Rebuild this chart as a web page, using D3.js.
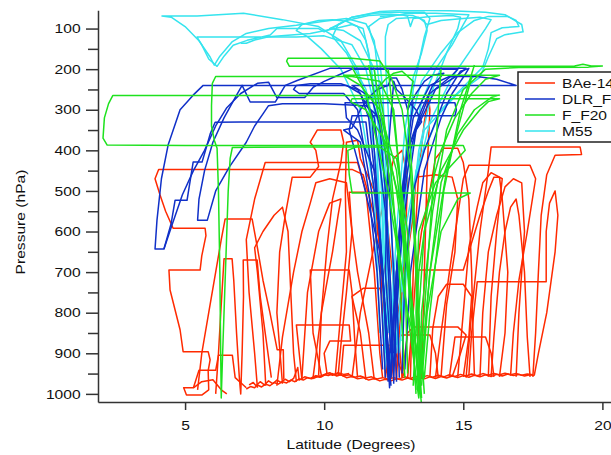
<!DOCTYPE html>
<html><head><meta charset="utf-8">
<script src="https://cdn.jsdelivr.net/npm/d3@7"></script>
<style>body{margin:0;background:#fff;overflow:hidden}svg{display:block}text{font-family:"Liberation Sans",Arial,sans-serif;fill:#111}</style>
</head><body>
<svg id="chart" width="611" height="455"></svg>
<script>
const seriesNames = ["BAe-146", "DLR_Falcon", "F_F20", "M55"];
const seriesColors = ["#ff2a00", "#1030c8", "#1ee21e", "#35e4ee"];
const xTickValues = [5, 10, 15, 20];
const yTickValues = [100, 200, 300, 400, 500, 600, 700, 800, 900, 1000];
const yMinorTickValues = [150, 250, 350, 450, 550, 650, 750, 850, 950];

const bae146Tracks = [
 [[12.6,960],[12.5,850],[12.2,700],[11.8,560],[11.4,460],[11.0,447],[8.0,447],[6.0,447],[4.05,447],[3.92,470],[4.1,510],[4.3,550],[4.57,592],[5.72,592],[5.75,610],[5.6,660],[5.54,695],[4.42,695],[4.46,744],[4.82,842],[4.93,896],[5.83,896],[5.9,916],[5.83,943],[5.85,990],[5.6,1003],[5.05,1003],[4.95,985],[5.3,985],[5.6,970],[6.0,965],[6.3,990],[6.5,1000]],
 [[5.45,990],[5.6,900],[5.85,800],[6.1,700],[6.3,620],[6.44,569],[7.41,569],[7.6,640],[7.8,720],[8.05,800],[8.31,891],[8.53,891],[8.55,965]],
 [[6.1,1000],[6.2,900],[6.3,780],[6.4,667],[6.69,667],[6.75,720],[6.85,850],[6.95,960],[7.0,1000],[7.05,900],[7.1,760],[7.09,670],[7.59,670],[7.7,760],[7.9,860],[8.1,960]],
 [[5.3,985],[5.5,942],[6.1,942],[6.2,905],[6.7,905],[6.8,960],[7.2,985]],
 [[7.6,985],[7.5,900],[7.3,750],[7.2,620],[7.5,520],[7.88,430],[9.0,430],[10.5,430],[11.2,430],[11.5,500],[11.8,700],[12.0,900],[12.1,960]],
 [[8.5,975],[8.3,800],[8.4,650],[8.6,560],[8.85,466],[9.5,466],[9.8,440],[9.7,400],[9.5,380],[9.75,350],[10.6,350],[10.7,380],[10.6,430],[10.3,520],[10.1,640],[9.9,800],[9.8,955]],
 [[9.2,965],[9.0,830],[9.4,830],[10.9,830],[10.95,870],[10.2,870],[10.0,900],[10.1,950]],
 [[9.9,955],[9.6,850],[9.5,695],[10.9,695],[11.0,750],[11.1,870],[11.2,960]],
 [[8.3,980],[8.5,860],[8.9,700],[9.2,600],[9.5,530],[9.7,480],[10.2,470],[10.8,480],[11.0,600],[10.8,750],[10.6,880],[10.5,955]],
 [[10.4,955],[10.6,800],[10.8,650],[10.76,500],[10.8,380],[11.2,375],[11.3,420],[11.8,500],[12.0,650],[12.1,800],[12.2,960]],
 [[11.5,965],[11.3,850],[11.0,760],[11.4,740],[12.0,740],[12.3,800],[12.4,900],[12.5,965]],
 [[11.8,965],[11.6,850],[11.2,700],[11.0,600],[10.9,503],[12.2,503],[12.3,600],[12.6,800],[12.8,960]],
 [[13.0,960],[13.2,800],[13.3,700],[13.5,600],[13.8,500],[14.0,420],[14.3,395],[14.8,395],[15.0,430],[15.2,520],[15.3,700],[15.35,850],[15.4,955]],
 [[14.0,960],[14.2,850],[14.5,700],[14.8,560],[15.0,470],[15.2,437],[17.4,437],[17.6,470],[17.3,600],[17.0,720],[16.8,850],[16.7,955]],
 [[15.1,960],[15.3,800],[15.6,600],[15.9,450],[16.0,392],[18.5,392],[19.2,392],[19.25,410],[18.3,412],[18.0,460],[17.8,560],[17.7,700],[17.6,850],[17.5,958]],
 [[15.2,955],[15.3,850],[15.5,724],[17.0,724],[17.98,724],[17.98,600],[18.1,530],[18.3,500],[18.4,560],[18.3,650],[18.0,800],[17.7,900],[17.55,955]],
 [[12.8,960],[13.0,850],[13.2,835],[14.8,835],[15.1,855],[14.9,900],[14.6,958]],
 [[13.5,955],[13.4,850],[13.3,695],[15.0,695],[15.2,650],[15.6,560],[15.9,500],[16.1,466],[16.3,466],[16.4,520],[16.6,700],[16.5,850],[16.3,958]],
 [[12.4,960],[12.6,820],[12.9,700],[13.2,560],[13.3,466],[14.0,460],[14.6,466],[14.8,520],[14.7,650],[14.4,780],[14.2,958]],
 [[16.0,958],[16.1,860],[16.3,700],[16.5,600],[16.7,540],[16.9,520],[17.0,560],[17.2,700],[17.3,860],[17.4,958]],
 [[13.1,960],[13.2,700],[13.4,450],[13.6,330],[13.75,270],[13.8,300],[13.7,450],[13.6,700],[13.5,960]],
 [[10.6,955],[10.7,880],[12.5,880],[12.7,930],[12.9,960]],
 [[14.5,958],[14.7,860],[15.8,860],[16.0,900],[16.1,958]],
 [[11.0,960],[11.3,800],[11.9,600],[12.3,480],[12.5,420],[12.8,400],[13.0,470],[12.9,650],[12.7,850],[12.6,960]],
 [[14.8,958],[15.0,800],[15.2,640],[15.5,540],[15.7,480],[16.0,455],[16.4,470],[16.2,600],[16.0,760],[15.9,958]],
 [[9.6,960],[9.9,800],[10.3,650],[10.5,560],[10.6,520],[10.2,530],[9.8,600],[9.4,750],[9.2,960]],
 [[15.6,958],[15.7,800],[15.9,650],[16.2,560],[16.5,490],[16.8,470],[17.1,480],[17.2,600],[17.0,800],[16.9,958]],
 [[13.8,958],[13.9,840],[14.1,760],[14.4,730],[15.0,730],[15.3,760],[15.2,860],[15.0,958]],
 [[12.2,960],[12.4,870],[12.8,855],[13.8,855],[14.0,900],[14.1,960]],
 [[7.9,980],[7.8,850],[7.6,700],[7.5,640],[7.8,600],[8.2,560],[8.5,540],[8.7,600],[8.8,750],[8.9,900],[9.0,970]]
];
const bae146Ground = [
 [[7.2,988],[7.35,982],[7.5,985],[7.6,978],[7.75,983],[7.9,976],[8.05,980],[8.2,972],[8.35,976],[8.5,970],[8.65,973],[8.8,966],[8.95,970],[9.1,963],[9.25,966],[9.4,960],[9.55,963],[9.7,957],[9.85,959],[10.0,953],[10.15,955],[10.3,950],[10.45,956],[10.6,953],[10.8,960],[11.0,957],[11.2,963],[11.4,960],[11.6,966],[11.8,962],[12.0,968],[12.2,964],[12.4,968],[12.6,963],[12.8,966],[13.0,961],[13.2,965],[13.4,960],[13.6,963],[13.8,958],[14.0,962],[14.2,957],[14.4,961],[14.6,956],[14.8,960],[15.0,955],[15.2,959],[15.4,954],[15.6,958],[15.8,953],[16.0,957],[16.2,952],[16.4,956],[16.6,951],[16.8,955],[17.0,952],[17.2,956],[17.4,953],[17.55,955]],
 [[9.6,962],[9.75,958],[9.9,955],[10.05,951],[10.2,948],[10.35,953],[10.5,950],[10.7,956],[10.9,953],[11.1,959],[11.3,956],[11.5,961],[11.7,958],[11.9,963],[12.1,960],[12.3,964],[12.5,960],[12.7,963],[12.9,958],[13.1,962],[13.3,957],[13.5,960],[13.7,955],[13.9,959],[14.1,954],[14.3,958],[14.5,953],[14.7,957],[14.9,952],[15.1,956],[15.3,951],[15.5,955],[15.7,950],[15.9,954],[16.1,950],[16.3,953],[16.5,949],[16.7,953],[16.9,950],[17.1,954],[17.3,951],[17.5,953]],
 [[7.3,978],[7.45,972],[7.55,980],[7.7,970],[7.85,978],[8.0,968],[8.15,975],[8.3,966],[8.45,972],[8.6,964],[8.75,970],[8.9,962],[9.05,935],[9.1,966],[9.3,958],[9.5,962],[9.7,955],[9.9,958],[10.1,950],[10.3,954],[10.5,948],[10.7,952],[10.9,950]]
];
const dlrTracks = [
 [[12.3,970],[12.1,700],[11.8,450],[11.6,320],[11.3,260],[10.8,240],[9.0,240],[7.0,240],[5.65,240],[5.29,264],[4.82,300],[4.39,387],[4.15,470],[3.99,572],[3.92,643],[4.24,643],[4.53,584],[4.9,510],[5.3,450],[5.7,400],[6.1,340],[6.5,295],[7.0,260],[7.6,235],[8.0,232],[8.3,270],[8.6,270],[9.3,270],[9.6,245],[10.0,230],[10.5,215],[11.0,200],[13.0,200],[14.8,200],[14.6,215],[13.8,260],[13.0,400],[12.6,700],[12.4,960]],
 [[12.4,980],[12.2,800],[12.0,600],[11.7,450],[11.5,330],[11.0,330],[9.0,330],[7.0,330],[6.08,331],[5.9,360],[5.79,387],[5.61,429],[5.29,429],[5.07,523],[4.64,523],[4.5,580],[4.24,643]],
 [[12.6,970],[12.5,700],[12.3,450],[12.0,320],[11.5,290],[10.0,285],[8.5,285],[8.0,290],[7.8,310],[7.5,340],[7.2,380],[6.6,440],[6.1,500],[5.8,572],[5.45,572],[5.5,520],[5.7,450],[6.0,380],[6.4,320],[6.8,270],[7.05,240],[7.34,281],[8.24,281],[8.6,240],[9.03,228],[10.2,198],[12.0,198],[15.1,198],[14.8,215],[14.0,250],[13.3,350],[12.8,600],[12.5,900]],
 [[12.3,960],[12.1,700],[11.8,450],[11.2,350],[10.8,320],[10.75,283],[12.0,283],[14.7,283],[14.75,300],[14.7,315],[12.5,315],[11.0,315],[10.9,350],[11.3,450],[12.0,650],[12.4,960]],
 [[12.5,975],[12.4,750],[12.2,500],[12.0,340],[11.7,270],[11.0,240],[12.0,240],[14.0,240],[16.9,240],[16.2,225],[15.5,218],[14.5,218],[13.8,240],[13.2,320],[12.8,500],[12.6,750],[12.5,970]],
 [[12.1,940],[11.9,700],[11.6,500],[11.3,380],[10.9,360],[10.7,350],[11.0,345],[11.3,300],[11.6,270],[11.9,250],[12.3,240],[12.4,222],[12.6,222],[12.8,250],[13.0,300],[13.3,260],[13.6,230],[13.9,215],[14.3,210],[13.9,240],[13.5,300],[13.0,400],[12.7,600],[12.5,800],[12.3,940]],
 [[12.7,960],[12.6,700],[12.9,500],[13.1,400],[13.3,350],[13.5,330],[13.3,300],[12.9,270],[12.6,250],[12.5,230],[12.3,400],[12.2,700],[12.4,900]],
 [[11.7,300],[11.9,500],[12.2,800],[12.35,985],[12.5,800],[12.8,500],[13.2,280]],
 [[12.2,960],[12.0,700],[11.7,500],[11.4,380],[11.2,300],[10.7,260],[9.1,260],[8.9,250],[9.0,240],[9.5,236],[10.6,236],[11.2,250],[11.8,320],[12.2,550],[12.45,900]],
 [[12.8,950],[12.9,700],[13.2,500],[13.6,400],[14.0,330],[14.4,260],[14.9,205],[15.2,198],[15.0,220],[14.6,260],[14.2,320],[13.6,450],[13.1,700],[12.9,940]]
];
const f20Tracks = [
 [[13.5,1010],[13.3,800],[13.4,600],[14.0,480],[14.8,420],[15.07,400],[15.0,388],[12.0,388],[8.0,388],[5.0,388],[2.2,387],[2.05,370],[2.1,320],[2.25,285],[2.4,265],[6.0,265],[12.0,265],[16.3,264],[16.0,270],[15.4,300],[14.8,360],[14.2,480],[13.8,700],[13.5,950]],
 [[13.0,950],[12.9,700],[12.7,450],[12.5,300],[12.0,230],[11.0,218],[8.0,218],[6.1,218],[5.98,235],[5.95,290],[5.95,340],[6.05,375],[6.15,395],[6.2,500],[6.25,700],[6.28,900],[6.3,1010],[6.35,900],[6.45,700],[6.55,500],[6.62,420],[6.7,393],[9.0,392],[12.0,392],[12.6,420],[13.0,600],[13.3,1000]],
 [[13.4,990],[13.3,700],[13.1,450],[12.8,300],[12.4,220],[12.0,180],[11.0,173],[8.7,173],[8.65,180],[8.75,193],[12.0,193],[16.0,193],[19.0,192],[19.3,188],[19.6,192],[20.0,192],[19.5,195],[17.0,196],[15.8,200],[15.0,250],[14.4,350],[13.9,550],[13.5,800],[13.45,1000]],
 [[11.2,390],[10.85,400],[10.9,460],[11.0,505],[13.0,505],[15.25,505],[14.8,520],[14.2,600],[13.7,800],[13.5,980]],
 [[13.6,1000],[13.4,800],[13.6,600],[14.2,450],[15.0,350],[15.6,300],[15.9,280],[16.3,273],[14.0,273],[11.0,273],[10.95,280],[11.5,300],[12.2,380],[12.8,550],[13.2,800],[13.4,1000]],
 [[13.2,980],[13.4,700],[13.8,500],[14.2,400],[14.7,320],[15.3,260],[15.8,225],[16.3,215],[13.0,215],[10.7,215],[11.3,240],[12.0,300],[12.6,450],[13.0,700],[13.3,990]],
 [[11.6,190],[12.2,400],[12.8,700],[13.4,1010],[13.8,700],[14.4,450],[15.3,220]],
 [[12.3,200],[12.7,450],[13.1,750],[13.49,1020]],
 [[14.2,200],[13.9,500],[13.6,800],[13.4,980],[13.2,800],[12.6,500],[12.0,300],[11.8,200]],
 [[15.4,190],[14.9,300],[14.3,500],[13.8,800],[13.6,960],[13.0,800],[12.3,500],[11.5,260],[11.0,195]],
 [[12.9,960],[12.7,700],[12.4,450],[12.1,300],[11.95,245],[12.2,225],[12.5,210],[12.8,205],[13.2,230],[13.0,300],[13.2,500],[13.4,800],[13.45,990]]
];
const m55Tracks = [
 [[12.2,940],[12.1,700],[11.9,450],[11.6,300],[11.2,200],[10.6,130],[9.8,95],[8.5,78],[7.1,62],[5.43,69],[4.17,69],[4.5,72],[5.0,95],[5.5,130],[5.9,170],[6.05,190],[6.25,168],[6.7,132],[7.2,112],[8.0,100],[9.0,92],[10.0,82],[10.8,75],[11.5,88],[11.8,130],[12.0,250],[12.2,500],[12.4,900]],
 [[12.5,920],[12.3,600],[12.0,350],[11.5,200],[11.0,140],[10.0,118],[9.0,121],[5.43,121],[5.6,140],[5.85,175],[6.15,193],[6.4,168],[6.73,141],[7.23,129],[8.06,116],[8.3,100],[9.8,100],[10.0,108],[10.4,95],[11.0,72],[11.8,62],[12.5,60],[13.6,60],[13.8,75],[13.6,120],[13.2,250],[12.8,500],[12.6,800],[12.5,930]],
 [[12.3,950],[12.2,700],[12.0,400],[11.5,250],[10.8,160],[10.3,120],[10.5,90],[11.0,72],[12.0,58],[13.0,55],[14.5,56],[15.8,60],[16.5,66],[17.1,90],[17.15,108],[16.5,115],[16.2,125],[15.9,170],[15.6,220],[14.8,260],[13.6,350],[12.9,600],[12.6,900]],
 [[12.4,930],[12.3,650],[12.2,400],[12.1,250],[12.0,180],[11.7,120],[11.6,95],[12.0,75],[13.0,62],[14.0,62],[15.2,66],[15.0,90],[14.6,140],[14.0,200],[13.5,280],[13.0,450],[12.7,700],[12.5,920]],
 [[12.2,900],[12.1,600],[12.0,350],[11.8,200],[11.3,130],[10.7,105],[10.2,100],[10.8,80],[11.6,68],[12.4,65],[13.2,68],[13.6,80],[13.7,105],[13.5,160],[13.2,220],[12.9,350],[12.6,600],[12.4,850]],
 [[12.6,880],[12.7,600],[13.0,350],[13.5,230],[14.2,160],[14.8,110],[15.4,80],[15.9,70],[16.6,70],[16.9,80],[17.0,95],[16.4,98],[16.0,110],[15.9,150],[15.7,195],[15.2,230],[14.2,300],[13.3,450],[12.9,700],[12.7,900]],
 [[12.0,850],[11.8,500],[11.3,300],[10.6,200],[9.9,150],[9.4,120],[9.0,105],[9.2,90],[9.8,80],[10.3,78],[10.8,82],[11.2,95],[11.5,130],[11.7,200],[11.9,400],[12.1,700],[12.2,900]],
 [[12.0,70],[12.8,66],[13.0,70],[13.1,95],[13.2,75],[13.8,70],[14.6,68],[14.9,72],[14.8,100],[14.4,160],[13.9,250],[13.4,400],[13.0,650],[12.8,870]],
 [[12.5,800],[12.4,500],[12.3,300],[12.2,180],[12.2,120],[12.3,90],[12.6,75],[13.4,72],[13.7,90],[14.2,80],[15.0,75],[15.6,72],[16.0,78],[15.8,100],[15.3,150],[14.6,220],[13.8,330],[13.2,500],[12.8,750]],
 [[7.0,136],[7.2,136],[7.5,128],[8.0,120],[9.5,112],[10.4,100],[11.0,90],[11.4,100],[11.6,160],[11.9,300],[12.2,600],[12.3,850]]
];

const svg = d3.select("#chart");
const x = d3.scaleLinear().domain([1.87, 20.5]).range([98, 616.3]);
const y = d3.scaleLinear().domain([55, 1020]).range([10.3, 402]);
const line = d3.line().x(d => x(d[0])).y(d => y(d[1]));

svg.append("defs").append("clipPath").attr("id", "plotclip")
  .append("rect").attr("x", 98).attr("y", 10).attr("width", 530).attr("height", 393);
const plot = svg.append("g").attr("clip-path", "url(#plotclip)");

function drawSeries(tracks, color) {
  plot.append("g").selectAll("path").data(tracks).join("path")
    .attr("d", line).attr("fill", "none").attr("stroke", color)
    .attr("stroke-width", 1.5).attr("stroke-linejoin", "round");
}
drawSeries(bae146Tracks.concat(bae146Ground), seriesColors[0]);
drawSeries(m55Tracks, seriesColors[3]);
drawSeries(dlrTracks, seriesColors[1]);
drawSeries(f20Tracks, seriesColors[2]);

const axisColor = "#333";
const gy = svg.append("g").attr("transform", "translate(98,0)")
  .call(d3.axisLeft(y).tickValues(yTickValues).tickSize(12).tickSizeOuter(0).tickFormat(d3.format("d")));
gy.append("g").call(d3.axisLeft(y).tickValues(yMinorTickValues).tickSize(10).tickFormat(""))
  .select(".domain").remove();
const gx = svg.append("g").attr("transform", "translate(0,402)")
  .call(d3.axisBottom(x).tickValues(xTickValues).tickSize(8).tickSizeOuter(0).tickFormat(d3.format("d")));
[gx, gy].forEach(g => {
  g.selectAll(".domain, line").attr("stroke", axisColor).attr("stroke-width", 1.5);
  g.selectAll("text").attr("font-size", 13).attr("fill", "#111")
   .attr("font-family", '"Liberation Sans", Arial, sans-serif');
});
gy.selectAll("text").attr("x", -14.5).attr("transform", "scale(1.2,1)");
gx.selectAll("text").attr("y", 19).attr("transform", "scale(1.2,1)");

svg.append("g").attr("transform", "translate(351,449) scale(1.2,1)")
  .append("text").attr("text-anchor", "middle").attr("font-size", 13).text("Latitude (Degrees)");
svg.append("g").attr("transform", "translate(25,222) rotate(-90) scale(1.2,1)")
  .append("text").attr("text-anchor", "middle").attr("font-size", 13).text("Pressure (hPa)");

const legend = svg.append("g");
legend.append("rect").attr("x", 518).attr("y", 72).attr("width", 130).attr("height", 70)
  .attr("fill", "#fff").attr("stroke", "#222").attr("stroke-width", 1.5);
seriesNames.forEach((name, i) => {
  const yy = 83 + i * 16;
  legend.append("line").attr("x1", 525).attr("x2", 555).attr("y1", yy).attr("y2", yy)
    .attr("stroke", seriesColors[i]).attr("stroke-width", 1.5);
  legend.append("g").attr("transform", `translate(562,${yy + 4.7}) scale(1.2,1)`)
    .append("text").attr("font-size", 13).text(name);
});
</script>
</body></html>
